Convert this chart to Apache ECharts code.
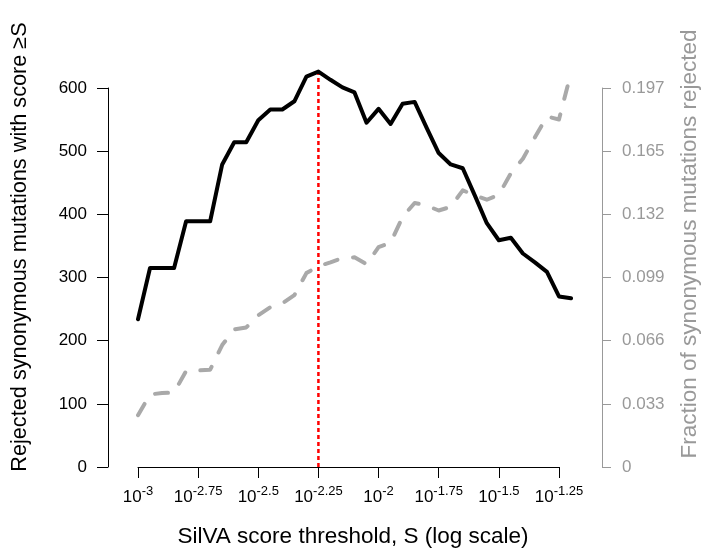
<!DOCTYPE html>
<html lang="en">
<head>
<meta charset="UTF-8">
<title>SilVA score threshold</title>
<script src="https://cdn.jsdelivr.net/npm/echarts@6/dist/echarts.min.js"></script>
<style>
    html, body { margin: 0; padding: 0; background: #fff; }
    #chart { width: 703px; height: 550px; }
</style>
</head>
<body>
<div id="chart"></div>
<script type="text/javascript">
    // x = log10(S), one point every 0.05
    var logThreshold = [-3.00, -2.95, -2.90, -2.85, -2.80, -2.75, -2.70, -2.65, -2.60, -2.55,
        -2.50, -2.45, -2.40, -2.35, -2.30, -2.25, -2.20, -2.15, -2.10, -2.05,
        -2.00, -1.95, -1.90, -1.85, -1.80, -1.75, -1.70, -1.65, -1.60, -1.55,
        -1.50, -1.45, -1.40, -1.35, -1.30, -1.25, -1.20];
    // rejected synonymous mutations with score >= S (left axis)
    var rejectedCounts = [234, 315, 315, 315, 389, 389, 389, 479, 514, 514,
        549, 566, 566, 579, 618, 626, 613, 601, 593, 545,
        567, 543, 575, 578, 537, 497, 479, 473, 430, 386,
        359, 363, 338, 324, 309, 270, 267];
    // fraction of synonymous mutations rejected (right axis)
    var fractionRejected = [0.0270, 0.0378, 0.0385, 0.0388, 0.0500, 0.0503, 0.0507, 0.0635, 0.0717, 0.0727,
        0.0790, 0.0832, 0.0852, 0.0895, 0.1010, 0.1046, 0.1066, 0.1089, 0.1092, 0.1056,
        0.1145, 0.1168, 0.1303, 0.1375, 0.1362, 0.1336, 0.1355, 0.1441, 0.1415, 0.1392,
        0.1418, 0.1530, 0.1606, 0.1717, 0.1826, 0.1810, 0.2053];
    var xTickExponents = ['-3', '-2.75', '-2.5', '-2.25', '-2', '-1.75', '-1.5', '-1.25'];
    var rightTickLabels = ['0', '0.033', '0.066', '0.099', '0.132', '0.165', '0.197'];
    var rightStep = 0.0329;
    // chosen threshold, drawn from 0 up to the peak
    var cutoffExponent = -2.25;
    var cutoffTop = 626;

    var font = "'Liberation Sans', Arial, sans-serif";
    var grayCol = '#999999';

    var chart = echarts.init(document.getElementById('chart'));

    function pairs(xs, ys) {
        return xs.map(function (x, i) { return [x, ys[i]]; });
    }

    var option = {
        animation: false,
        backgroundColor: '#fff',
        // grid 0 holds the data (runs out to the last point),
        // grid 1 only carries the x axis, which stops at the last tick like in R
        grid: [
            { left: 138, right: 132, top: 88, bottom: 83 },
            { left: 138, right: 144, top: 88, bottom: 83 }
        ],
        xAxis: [{
            gridIndex: 0,
            type: 'value',
            min: -3,
            max: -1.2,
            show: false
        }, {
            gridIndex: 1,
            type: 'value',
            min: -3,
            max: -1.25,
            interval: 0.25,
            splitLine: { show: false },
            axisLine: { lineStyle: { color: '#000', width: 1 } },
            axisTick: { length: 11, lineStyle: { color: '#000' } },
            axisLabel: {
                margin: 18,
                formatter: function (v) {
                    var i = Math.round((v + 3) / 0.25);
                    return '{b|10}{s|' + xTickExponents[i] + '}';
                },
                rich: {
                    b: { fontSize: 17, fontFamily: font, color: '#000' },
                    s: { fontSize: 13, fontFamily: font, color: '#000', padding: [0, 0, 11, 0] }
                }
            }
        }],
        yAxis: [{
            gridIndex: 0,
            type: 'value',
            position: 'left',
            offset: 30,
            min: 0,
            max: 600,
            interval: 100,
            splitLine: { show: false },
            axisLine: { show: true, lineStyle: { color: '#000', width: 1 } },
            axisTick: { show: true, length: 11, lineStyle: { color: '#000' } },
            axisLabel: { margin: 21, fontSize: 17, fontFamily: font, color: '#000' }
        }, {
            gridIndex: 0,
            type: 'value',
            position: 'right',
            offset: 31,
            min: 0,
            max: 0.1974,
            interval: rightStep,
            splitLine: { show: false },
            axisLine: { show: true, lineStyle: { color: grayCol, width: 1 } },
            axisTick: { show: true, length: 9, lineStyle: { color: grayCol } },
            axisLabel: {
                margin: 20, fontSize: 17, fontFamily: font, color: grayCol,
                formatter: function (v) {
                    return rightTickLabels[Math.round(v / rightStep)];
                }
            }
        }, {
            gridIndex: 1,
            type: 'value',
            min: 0,
            max: 600,
            show: false
        }],
        graphic: [{
            type: 'text',
            x: 20, y: 247,
            rotation: Math.PI / 2,
            style: {
                text: 'Rejected synonymous mutations with score \u2265S',
                fontSize: 21.7, fontFamily: font, fill: '#000',
                align: 'center', verticalAlign: 'middle'
            }
        }, {
            type: 'text',
            x: 690, y: 244,
            rotation: Math.PI / 2,
            style: {
                text: 'Fraction of synonymous mutations rejected',
                fontSize: 22.5, fontFamily: font, fill: grayCol,
                align: 'center', verticalAlign: 'middle'
            }
        }, {
            type: 'text',
            x: 353, y: 537,
            style: {
                text: 'SilVA score threshold, S (log scale)',
                fontSize: 22.5, fontFamily: font, fill: '#000',
                align: 'center', verticalAlign: 'middle'
            }
        }],
        series: [{
            name: 'fraction',
            type: 'line',
            xAxisIndex: 0,
            yAxisIndex: 1,
            data: pairs(logThreshold, fractionRejected),
            showSymbol: false,
            clip: false,
            z: 1,
            lineStyle: { color: '#A9A9A9', width: 4, type: [13, 16], cap: 'round', join: 'round' }
        }, {
            name: 'cutoff',
            type: 'line',
            xAxisIndex: 0,
            yAxisIndex: 0,
            data: [[cutoffExponent, 0], [cutoffExponent, cutoffTop]],
            showSymbol: false,
            clip: false,
            z: 2,
            lineStyle: { color: '#FF0000', width: 2.5, type: [4, 3] }
        }, {
            name: 'rejected',
            type: 'line',
            xAxisIndex: 0,
            yAxisIndex: 0,
            data: pairs(logThreshold, rejectedCounts),
            showSymbol: false,
            clip: false,
            z: 3,
            lineStyle: { color: '#000', width: 4, join: 'round', cap: 'round' }
        }]
    };
    chart.setOption(option);
</script>
</body>
</html>
